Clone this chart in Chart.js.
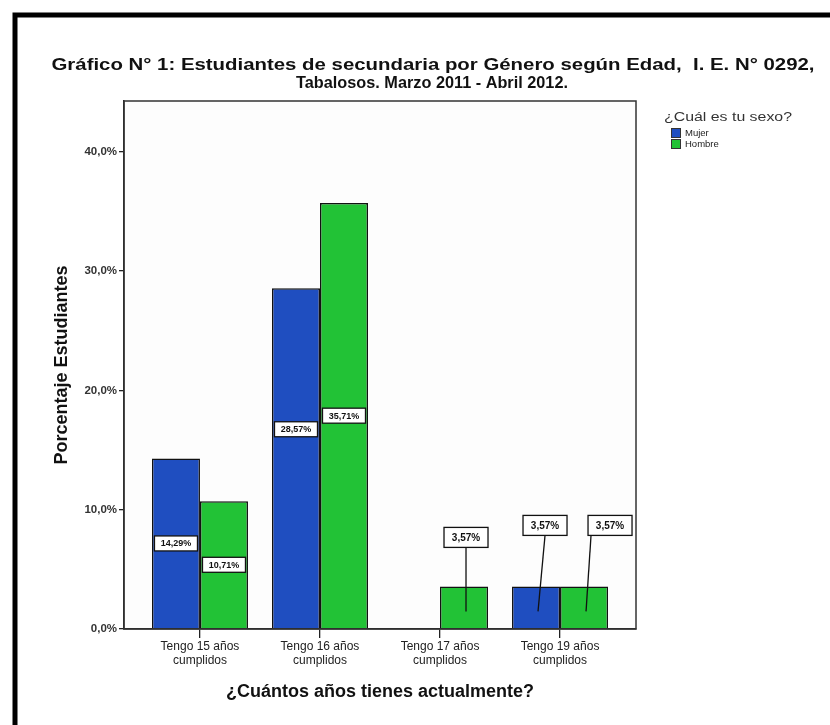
<!DOCTYPE html>
<html lang="es">
<head>
    <meta charset="UTF-8">
    <title>Gráfico N° 1</title>
    <script src="https://cdn.jsdelivr.net/npm/chart.js@4.4.1/dist/chart.umd.min.js"></script>
    <style>
        body { margin: 0; background: #fff; }
        canvas { display: block; }
    </style>
</head>
<body>
    <canvas id="grafico" width="830" height="725"></canvas>
    <script>
        // datos
        const categorias = [
            ['Tengo 15 años', 'cumplidos'],
            ['Tengo 16 años', 'cumplidos'],
            ['Tengo 17 años', 'cumplidos'],
            ['Tengo 19 años', 'cumplidos']
        ];
        const mujer = [14.29, 28.57, null, 3.57];
        const hombre = [10.71, 35.71, 3.57, 3.57];
        const yTicks = [0, 10, 20, 30, 40];
        const series = ['Mujer', 'Hombre'];

        const FONT = "'Liberation Sans', Arial, sans-serif";
        const AZUL = '#1f4ec0';
        const VERDE = '#22c236';

        function pct(v, d) {
            return v.toFixed(d).replace('.', ',') + '%';
        }

        // desplazamientos de las etiquetas (como en el original)
        const dentroShift = { '0-1': -29 };
        const fueraShift = { '1-2': { dx: 2, dy: 49 }, '0-3': { dx: 9, dy: 61 }, '1-3': { dx: 26, dy: 61 } };

        function caja(ctx, cx, cy, w, h, txt, font) {
            ctx.fillStyle = '#fff';
            ctx.fillRect(cx - w / 2, cy - h / 2, w, h);
            ctx.strokeStyle = '#111';
            ctx.lineWidth = 1.3;
            ctx.strokeRect(cx - w / 2, cy - h / 2, w, h);
            ctx.fillStyle = '#111';
            ctx.font = font;
            ctx.textAlign = 'center';
            ctx.textBaseline = 'middle';
            ctx.fillText(txt, cx, cy + 0.5);
        }

        // texto estirado a lo ancho, como en la imagen original
        function estirado(ctx, t, x, y, w) {
            const s = w / ctx.measureText(t).width;
            ctx.save();
            ctx.translate(x, y);
            ctx.scale(s, 1);
            ctx.fillText(t, 0, 0);
            ctx.restore();
        }

        const etiquetas = {
            id: 'etiquetas',
            afterDatasetsDraw(chart) {
                const ctx = chart.ctx;
                ctx.save();
                chart.data.datasets.forEach((ds, di) => {
                    chart.getDatasetMeta(di).data.forEach((bar, i) => {
                        const v = ds.data[i].y;
                        if (v == null) return;
                        const mid = (bar.y + bar.base) / 2;
                        const key = di + '-' + i;
                        if (!fueraShift[key]) {
                            caja(ctx, bar.x, mid + (dentroShift[key] || 0), 43, 15, pct(v, 2), 'bold 9px ' + FONT);
                        } else {
                            const o = fueraShift[key];
                            const bx = bar.x + o.dx, by = bar.y - o.dy;
                            const tx = Math.abs(o.dx) > 15 ? bx - 22 + 3 : bx;
                            ctx.strokeStyle = '#111';
                            ctx.lineWidth = 1.3;
                            ctx.beginPath();
                            ctx.moveTo(bar.x + 2, mid + 4);
                            ctx.lineTo(tx, by + 10);
                            ctx.stroke();
                            caja(ctx, bx, by, 44, 20, pct(v, 2), 'bold 10px ' + FONT);
                        }
                    });
                });
                ctx.restore();
            }
        };

        const marco = {
            id: 'marco',
            beforeDraw(chart) {
                const { ctx, chartArea: a } = chart;
                ctx.save();
                ctx.fillStyle = '#fdfdfd';
                ctx.fillRect(a.left, a.top, a.right - a.left, a.bottom - a.top);
                ctx.restore();
            },
            afterDraw(chart) {
                const { ctx, chartArea: a } = chart;
                ctx.save();
                // caja del área de trazado
                ctx.strokeStyle = '#333';
                ctx.lineWidth = 1.5;
                ctx.strokeRect(a.left, a.top, a.right - a.left, a.bottom - a.top);
                // marco exterior grueso
                ctx.strokeStyle = '#000';
                ctx.lineWidth = 5;
                ctx.strokeRect(15, 15, 900, 900);

                // título
                ctx.fillStyle = '#111';
                ctx.textAlign = 'center';
                ctx.textBaseline = 'middle';
                ctx.font = 'bold 17px ' + FONT;
                estirado(ctx, 'Gráfico N° 1: Estudiantes de secundaria por Género según Edad,  I. E. N° 0292,', 433, 65, 763);
                estirado(ctx, 'Tabalosos. Marzo 2011 - Abril 2012.', 432, 83, 272);

                // leyenda
                ctx.font = '12px ' + FONT;
                ctx.fillStyle = '#333';
                estirado(ctx, '¿Cuál es tu sexo?', 728, 118, 128);
                [AZUL, VERDE].forEach((c, k) => {
                    const y = 128 + k * 11;
                    ctx.fillStyle = c;
                    ctx.fillRect(671, y, 10, 10);
                    ctx.strokeStyle = '#333';
                    ctx.lineWidth = 1;
                    ctx.strokeRect(671.5, y + 0.5, 9, 9);
                    ctx.fillStyle = '#222';
                    ctx.font = '9.5px ' + FONT;
                    ctx.textAlign = 'left';
                    ctx.fillText(series[k], 685, y + 5.5);
                });
                ctx.restore();
            }
        };

        const ctx = document.getElementById('grafico').getContext('2d');
        new Chart(ctx, {
            type: 'bar',
            data: {
                datasets: [
                    {
                        label: series[0],
                        data: mujer.map((v, i) => ({ x: i, y: v })),
                        backgroundColor: AZUL,
                        borderColor: '#111',
                        borderWidth: 1.5
                    },
                    {
                        label: series[1],
                        data: hombre.map((v, i) => ({ x: i, y: v })),
                        backgroundColor: VERDE,
                        borderColor: '#111',
                        borderWidth: 1.5
                    }
                ]
            },
            options: {
                responsive: false,
                animation: false,
                categoryPercentage: 0.8,
                barPercentage: 1,
                layout: { padding: { top: 101, right: 194, left: 0, bottom: 0 } },
                plugins: {
                    legend: { display: false },
                    tooltip: { enabled: false }
                },
                scales: {
                    x: {
                        type: 'linear',
                        offset: false,
                        min: -0.633,
                        max: 3.633,
                        afterFit: s => { s.height = 96; },
                        afterBuildTicks: s => { s.ticks = categorias.map((c, i) => ({ value: i })); },
                        grid: { offset: false, drawOnChartArea: false, drawTicks: true, tickLength: 9, color: '#222', lineWidth: 1.3 },
                        border: { display: true, color: '#222', width: 1.5 },
                        ticks: {
                            callback: v => categorias[v],
                            color: '#222',
                            font: { family: FONT, size: 12 },
                            padding: 1,
                            maxRotation: 0,
                            autoSkip: false
                        },
                        title: {
                            display: true,
                            text: '¿Cuántos años tienes actualmente?',
                            color: '#111',
                            font: { family: FONT, size: 18, weight: 'bold' },
                            padding: { top: 0, bottom: 22 }
                        }
                    },
                    y: {
                        min: 0,
                        max: 44.26,
                        afterFit: s => { s.width = 124; },
                        afterBuildTicks: s => { s.ticks = yTicks.map(v => ({ value: v })); },
                        grid: { drawOnChartArea: false, drawTicks: true, tickLength: 5, color: '#222', lineWidth: 1.3 },
                        border: { display: true, color: '#222', width: 1.5 },
                        ticks: {
                            callback: v => pct(v, 1),
                            color: '#333',
                            font: { family: FONT, size: 11.5, weight: 'bold' },
                            padding: 2
                        },
                        title: {
                            display: true,
                            text: 'Porcentaje Estudiantes',
                            color: '#111',
                            font: { family: FONT, size: 18, weight: 'bold' },
                            padding: { top: 51, bottom: 0 }
                        }
                    }
                }
            },
            plugins: [marco, etiquetas]
        });
    </script>
</body>
</html>
